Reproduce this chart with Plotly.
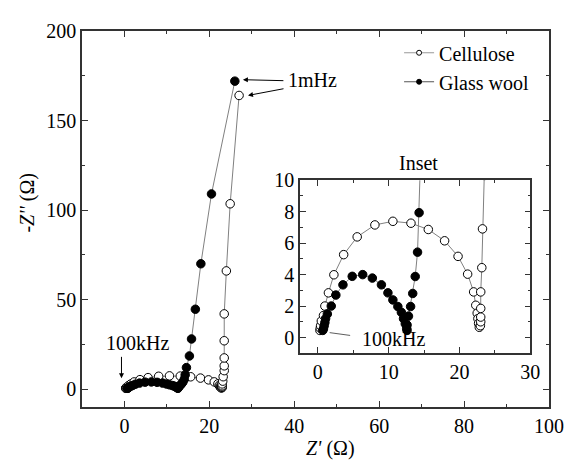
import plotly.graph_objects as go

# Cellulose (open circles): Z' and -Z''
cell_x = [0.3, 0.35, 0.4, 0.5, 0.8, 1.0, 1.5, 2.27, 3.65, 5.56, 8.06, 10.6, 13.15, 15.6, 17.9, 19.8, 21.15,
          22.0, 22.3, 22.5, 22.6, 22.7, 22.8, 22.95, 23.0, 23.0, 23.0, 23.0, 23.15, 23.25,
          23.5, 23.5, 23.5, 23.5, 23.5, 24.0, 24.9, 27.0]
cell_y = [0.45, 0.6, 0.75, 1.05, 1.4, 2.0, 2.84, 3.99, 5.27, 6.4, 7.16, 7.39, 7.27, 6.87, 6.15, 5.16, 4.03,
          2.9, 2.05, 1.55, 1.2, 0.9, 0.65, 0.75, 1.0, 1.3, 1.85, 2.9, 4.44, 6.91,
          10.3, 13.0, 17.4, 27.0, 42.0, 66.0, 103.5, 164.0]

# Glass wool (filled circles)
glass_x = [0.7, 0.8, 0.9, 1.0, 1.1, 1.35, 1.9, 2.55, 3.55, 4.86, 6.34, 7.7, 8.98, 9.9, 10.6, 11.3, 11.8,
           12.1, 12.35, 12.55, 12.6, 12.6, 12.8, 13.1, 13.4, 13.75, 14.08, 14.3,
           14.6, 15.3, 15.8, 16.7, 18.0, 20.5, 26.0]
glass_y = [0.45, 0.55, 0.75, 0.95, 1.2, 1.5, 2.0, 2.7, 3.35, 3.89, 4.0, 3.78, 3.35, 2.84, 2.39, 1.97, 1.6,
           1.2, 0.87, 0.58, 0.45, 0.8, 1.36, 1.97, 2.8, 3.88, 5.43, 7.94,
           12.0, 18.5, 28.0, 44.6, 70.0, 109.0, 172.0]

FONT = "'Liberation Serif', 'Times New Roman', 'DejaVu Serif', serif"
LINE_C = "#808080"
AX_C = "#333333"

fig = go.Figure()

for xa, ya in [("x", "y"), ("x2", "y2")]:
    fig.add_trace(go.Scatter(x=cell_x, y=cell_y, mode="lines+markers", xaxis=xa, yaxis=ya,
                             line=dict(color=LINE_C, width=1),
                             marker=dict(symbol="circle", size=8.5, color="white",
                                         line=dict(color="black", width=1)),
                             showlegend=False))
    fig.add_trace(go.Scatter(x=glass_x, y=glass_y, mode="lines+markers", xaxis=xa, yaxis=ya,
                             line=dict(color=LINE_C, width=1),
                             marker=dict(symbol="circle", size=8.5, color="black",
                                         line=dict(color="black", width=1)),
                             showlegend=False))

# legend-only entries
fig.add_trace(go.Scatter(x=[None], y=[None], mode="lines+markers", name="Cellulose",
                         line=dict(color="#999999", width=1),
                         marker=dict(size=5, color="white", line=dict(color="black", width=1))))
fig.add_trace(go.Scatter(x=[None], y=[None], mode="lines+markers", name="Glass wool",
                         line=dict(color="#555555", width=1),
                         marker=dict(size=5, color="black", line=dict(color="black", width=1))))

axis_common = dict(showline=True, linecolor=AX_C, linewidth=1.5, mirror="ticks",
                   ticks="inside", ticklen=6, tickwidth=1.2, tickcolor=AX_C,
                   showgrid=False, zeroline=False,
                   tickfont=dict(family=FONT, size=20, color="black"))

# page has an 8px body margin, so the figure is 8px smaller on each axis
fig.update_layout(
    width=568, height=454,
    margin=dict(l=74, r=21, t=14, b=55),
    plot_bgcolor="white", paper_bgcolor="white",
    font=dict(family=FONT, size=20, color="black"),
    xaxis=dict(range=[-10, 100], dtick=20, tick0=0,
               minor=dict(dtick=10, ticks="inside", ticklen=3, tickcolor=AX_C, showgrid=False),
               **axis_common),
    yaxis=dict(range=[-10, 200], dtick=50, tick0=0,
               minor=dict(dtick=25, ticks="inside", ticklen=3, tickcolor=AX_C, showgrid=False),
               **axis_common),
    xaxis2=dict(domain=[0.467, 0.960], anchor="y2", range=[-2.5, 30], dtick=10, tick0=0,
                minor=dict(dtick=5, ticks="inside", ticklen=3, tickcolor=AX_C, showgrid=False),
                **axis_common),
    yaxis2=dict(domain=[0.143, 0.603], anchor="x2", range=[-1, 10], dtick=2, tick0=0,
                minor=dict(dtick=1, ticks="inside", ticklen=3, tickcolor=AX_C, showgrid=False),
                **axis_common),
    legend=dict(x=0.679, y=0.994, xanchor="left", yanchor="top", bgcolor="rgba(0,0,0,0)",
                font=dict(family=FONT, size=20), tracegroupgap=0),
    showlegend=True,
)

ann = []
# axis titles
ann.append(dict(text="-<i>Z''</i> (Ω)", xref="paper", yref="paper", x=(27 - 82) / 473, y=(407 - 198) / 385,
                textangle=-90, showarrow=False, font=dict(family=FONT, size=20), xanchor="center", yanchor="middle"))
ann.append(dict(text="<i>Z'</i> (Ω)", xref="paper", yref="paper", x=(334 - 82) / 473, y=(407 - 449) / 385,
                showarrow=False, font=dict(family=FONT, size=20), xanchor="center", yanchor="middle"))
# main annotations
ann.append(dict(text="100kHz", xref="x", yref="y", x=3.0, y=25.6, showarrow=False,
                font=dict(family=FONT, size=20)))
ann.append(dict(text="", xref="x", yref="y", x=-0.7, y=6.0, ax=0, ay=-23, showarrow=True,
                arrowhead=2, arrowsize=1, arrowwidth=1, arrowcolor="black"))
ann.append(dict(text="1mHz", xref="x", yref="y", x=44.2, y=172.8, showarrow=False,
                font=dict(family=FONT, size=20)))
ann.append(dict(text="", xref="x", yref="y", x=27.9, y=172.8, ax=42, ay=1, showarrow=True,
                arrowhead=2, arrowsize=1, arrowwidth=1, arrowcolor="black"))
ann.append(dict(text="", xref="x", yref="y", x=29.1, y=164.0, ax=37, ay=-7, showarrow=True,
                arrowhead=2, arrowsize=1, arrowwidth=1, arrowcolor="black"))
# inset annotations
ann.append(dict(text="Inset", xref="x2", yref="paper", x=14.2, y=(407 - 157) / 385, showarrow=False,
                font=dict(family=FONT, size=20), yanchor="middle"))
ann.append(dict(text="100kHz", xref="x2", yref="y2", x=10.7, y=-0.12, showarrow=False,
                font=dict(family=FONT, size=20)))
ann.append(dict(text="", xref="x2", yref="y2", x=1.67, y=0.31, ax=22, ay=3, showarrow=True,
                arrowhead=0, arrowwidth=0.8, arrowcolor="#333333"))
fig.update_layout(annotations=ann)

fig.write_html("out.html")
